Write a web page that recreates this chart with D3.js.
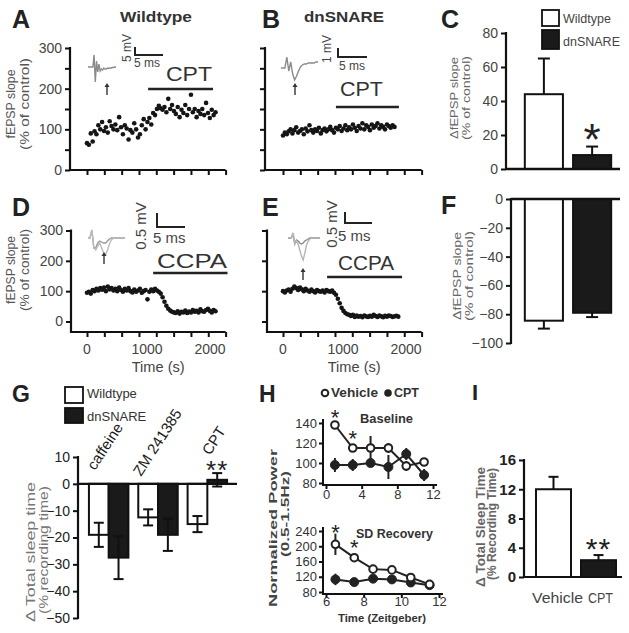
<!DOCTYPE html>
<html><head><meta charset="utf-8">
<script src="https://cdn.jsdelivr.net/npm/d3@7"></script>
<style>
body{margin:0;background:#fff;}
svg{display:block;font-family:"Liberation Sans",Arial,Helvetica,sans-serif;}
</style></head><body>
<svg id="fig" width="629" height="633"></svg>
<script>
// ================= DATA =================
const sampleStepSec = 30;
const timeMinorTicks = [0, 275, 550, 825, 1100, 1375, 1650, 1925, 2200];
const timeTickLabels = [0, 1000, 2000];
const slopeTicks = [0, 50, 100, 150, 200, 250, 300];
const slopeTickLabels = [0, 100, 200, 300];
const slopeTicksCcpa = [0, 100, 200, 300];

// A: Wildtype, CPT (fEPSP slope, % of control)
const wildtypeCptSlope = [66, 62, 90, 70, 95, 88, 110, 100, 118, 96, 105, 92, 120, 108, 100, 112, 98, 130, 105, 88,
  110, 102, 75, 98, 92, 115, 100, 80, 88, 110, 125, 100, 118, 128, 112, 140, 135, 150, 158, 152,
  148, 155, 142, 175, 150, 160, 145, 138, 155, 130, 148, 140, 160, 135, 150, 185, 142, 150, 130, 145,
  138, 150, 135, 165, 140, 128, 148, 135, 142];
// B: dnSNARE, CPT
const dnSnareCptSlope = [85, 92, 88, 95, 100, 90, 98, 105, 92, 96, 100, 88, 102, 95, 110, 98, 92, 100, 96, 104,
  90, 98, 102, 95, 100, 106, 98, 92, 104, 100, 108, 96, 102, 110, 98, 105, 100, 112, 104, 96,
  108, 102, 115, 100, 110, 106, 98, 112, 104, 108, 115, 102, 110, 106, 100, 112, 108, 104, 110, 106];
// D: Wildtype, CCPA
const wildtypeCcpaSlope = [95, 98, 92, 104, 100, 108, 102, 110, 105, 112, 100, 115, 106, 110, 102, 108, 100, 112, 104, 98,
  108, 102, 110, 100, 96, 105, 98, 102, 108, 95, 100, 104, 73, 98, 105, 100, 108, 102, 98,
  92, 80, 65, 52, 42, 36, 32, 30,
  28, 34, 26, 32, 30, 36, 28, 33, 30, 38, 32, 35, 30, 40, 34, 32, 38, 42, 35, 30, 38, 34];
// E: dnSNARE, CCPA
const dnSnareCcpaSlope = [100, 96, 102, 105, 98, 108, 115, 110, 104, 112, 106, 100, 108, 102, 98, 105, 100, 96, 104, 100,
  98, 102, 96, 104, 100, 98, 102,
  95, 88, 75, 60, 45, 35, 28, 24, 22,
  18, 22, 15, 20, 16, 18, 14, 20, 17, 15, 19, 16, 22, 18, 15, 20, 17, 14, 19, 16, 20, 18, 15, 17, 19, 16];
// drug application (s)
const cptOnsetSec = [970, 840];
const cptOffsetSec = [2000, 1840];
const ccpaOnsetSec = [1050, 700];
const ccpaOffsetSec = [2230, 1890];

// example traces (inset, arbitrary units)
const traceWtCpt = [0, 0, 0, 0, 0, 12, -15, 6, -5, 3, -4, -2, -3, -1, -2, -2, -1, -1.5, -1, -1, -0.5, -0.5, 0, 0];
const traceDnCpt = [0, 0, 0, 11, -3, 6, -6, -12, -8, -3, 1, 3, 4, 4, 5, 5, 5, 5, 6, 6];
const traceWtCcpaCtrl = [0, 0, 8, -10, -12, -8, -5, -10, -15, -17, -12, -6, -2, 0, 0, 0, 0, 0, 0, 0];
const traceWtCcpaDrug = [0, 0, 8, -10, -10, -5, -3, -4, -5, -5, -3, -1, 0, 0, 0, 0, 0, 0, 0, 0];
const traceDnCcpaCtrl = [0, 0, 0, 5, -6, -3, -6, -12, -18, -22, -15, -7, -3, -1, 0, 0, 0, 0, 0, 0];
const traceDnCcpaDrug = [0, 0, 0, 5, -6, -2, -3, -5, -6, -5, -3, -2, -1, 0, 0, 0, 0, 0, 0, 0];

// C / F: change in fEPSP slope
const genotypes = ["Wildtype", "dnSNARE"];
const cptDeltaSlope = [44, 8.2];
const cptDeltaSlopeErr = [21, 5];
const ccpaDeltaSlope = [-84.5, -79];
const ccpaDeltaSlopeErr = [5.5, 3];
const deltaCptTicks = [0, 20, 40, 60, 80];
const deltaCcpaTicks = [0, -20, -40, -60, -80, -100];

// G: change in total sleep time
const drugs = ["caffeine", "ZM 241385", "CPT"];
const sleepWildtype = [-19, -12.5, -15];
const sleepWildtypeErr = [4.5, 3, 3];
const sleepDnSnare = [-27.5, -19, 1.5];
const sleepDnSnareErr = [8, 6, 2.5];
const sleepTicks = [10, 0, -10, -20, -30, -40, -50];

// H: normalized power
const baselineHours = [1, 3, 5, 7, 9, 11];
const baselineVehicle = [138, 115, 115, 115, 97, 101];
const baselineVehicleErr = [3, 4, 12, 5, 5, 4];
const baselineCpt = [98, 98, 100, 96, 109, 88];
const baselineCptErr = [7, 6, 4, 12, 6, 6];
const baselineTicksY = [80, 100, 120, 140];
const baselineTicksX = [0, 4, 8, 12];
const recoveryHours = [6.5, 7.5, 8.5, 9.5, 10.5, 11.5];
const recoveryVehicle = [205, 170, 140, 138, 118, 100];
const recoveryVehicleErr = [28, 10, 6, 6, 5, 4];
const recoveryCpt = [113, 106, 115, 113, 105, 98];
const recoveryCptErr = [15, 8, 8, 7, 6, 5];
const recoveryTicksY = [80, 120, 160, 200, 240];
const recoveryTicksX = [6, 8, 10, 12];

// I: total sleep time
const treatments = ["Vehicle", "CPT"];
const sleepTime = [12, 2.3];
const sleepTimeErr = [1.7, 0.7];
const sleepTimeTicks = [0, 4, 8, 12, 16];

// ================= DRAWING =================
const svg = d3.select("#fig");
const INK = "#111";
const TXT = "#3a3a3a";

function txt(parent, str, x, y, o = {}) {
  const t = parent.append("text").attr("x", x).attr("y", y).text(str)
    .attr("font-size", o.size || 12).attr("fill", o.fill || TXT)
    .attr("font-weight", o.weight || "normal")
    .attr("text-anchor", o.anchor || "start");
  if (o.rotate != null) t.attr("transform", `rotate(${o.rotate},${x},${y})`);
  if (o.length) t.attr("textLength", o.length).attr("lengthAdjust", "spacingAndGlyphs");
  if (o.ls) t.attr("letter-spacing", o.ls);
  return t;
}
function line(parent, x1, y1, x2, y2, w = 2, c = INK) {
  return parent.append("line").attr("x1", x1).attr("y1", y1).attr("x2", x2).attr("y2", y2)
    .attr("stroke", c).attr("stroke-width", w);
}
function styleAxis(g, o = {}) {
  g.select(".domain").remove();
  g.selectAll(".tick line").attr("stroke", INK).attr("stroke-width", o.w || 2);
  g.selectAll(".tick text").attr("font-size", o.size || 14).attr("fill", o.fill || "#444")
    .attr("font-weight", o.weight || "normal").attr("font-family", "Liberation Sans, Arial, sans-serif");
}
function star(parent, str, cx, cy, size, ls = 0) {
  return txt(parent, str, cx, cy + 0.56 * size, { size, anchor: "middle", fill: "#222", ls });
}

// ---------- time-course panels (A, B, D, E) ----------
function timeCourse(cfg) {
  const g = svg.append("g");
  const t = d3.scaleLinear().domain([0, 2000]).range(cfg.tRange);
  const y = d3.scaleLinear().domain([0, 300]).range(cfg.yRange);
  const ya = g.append("g").attr("transform", `translate(${cfg.axisX},0)`)
    .call(d3.axisLeft(y).tickValues(cfg.yTicks).tickSize(5).tickPadding(3)
      .tickFormat(d => cfg.yLabels.includes(d) ? d : ""));
  styleAxis(ya, { size: 14 });
  line(g, cfg.axisX, y(300) - 1, cfg.axisX, cfg.xAxisY + 1, 2.2);
  const xa = g.append("g").attr("transform", `translate(0,${cfg.xAxisY})`)
    .call(d3.axisBottom(t).tickValues(timeMinorTicks).tickSize(5).tickFormat(""));
  styleAxis(xa);
  line(g, cfg.axisX, cfg.xAxisY, t(2200), cfg.xAxisY, 2.2);
  if (cfg.xLabels) {
    timeTickLabels.forEach(v => txt(g, v, t(v) + (v === 0 ? 0 : -3), cfg.xAxisY + 22, { size: 14, anchor: "middle", fill: "#444" }));
    txt(g, "Time (s)", t(1130), cfg.xAxisY + 40, { size: 15, anchor: "middle", fill: "#444", length: 53 });
  }
  g.append("g").selectAll("circle").data(cfg.values).join("circle")
    .attr("cx", (d, i) => t(i * sampleStepSec)).attr("cy", d => y(d))
    .attr("r", 2.3).attr("fill", "#151515");
  // drug bar
  line(g, t(cfg.drugOn), cfg.drugY, t(cfg.drugOff), cfg.drugY, 2.5, "#222");
  txt(g, cfg.drug, cfg.drugTextX, cfg.drugTextY, { size: 20, fill: "#333", length: cfg.drugLen });
  // inset traces
  cfg.traces.forEach(tr => {
    const xs = d3.scaleLinear().domain([0, tr.values.length - 1]).range([tr.x0, tr.x1]);
    const ys = d3.scaleLinear().domain([0, 1]).range([tr.base, tr.base - 1]);
    g.append("path").datum(tr.values)
      .attr("d", d3.line().x((d, i) => xs(i)).y(d => ys(d)))
      .attr("fill", "none").attr("stroke", tr.color).attr("stroke-width", 1.4);
  });
  // arrow
  const a = cfg.arrow;
  line(g, a.x, a.y1, a.x, a.y0 + 3, 1.4, "#333");
  g.append("path").attr("d", `M${a.x - 2.5},${a.y0 + 4}L${a.x},${a.y0}L${a.x + 2.5},${a.y0 + 4}Z`).attr("fill", "#333");
  // scale bar
  const s = cfg.scale;
  g.append("path").attr("d", `M${s.x},${s.y0}V${s.y1}H${s.x + s.w}`).attr("fill", "none").attr("stroke", "#222").attr("stroke-width", 2);
  txt(g, s.vLabel, s.vx, s.vy, { size: s.size, rotate: -90, anchor: "middle", fill: "#444" });
  txt(g, "5 ms", s.hx, s.hy, { size: s.size, fill: "#444" });
  // y titles
  if (cfg.yTitle) {
    txt(g, "fEPSP slope", 15, cfg.titleY, { size: 12, rotate: -90, anchor: "middle", fill: "#555", length: cfg.t1 });
    txt(g, "(% of control)", 29, cfg.titleY, { size: 12, rotate: -90, anchor: "middle", fill: "#555", length: cfg.t2 });
  }
}

timeCourse({
  tRange: [87, 213], yRange: [170, 48], axisX: 70, xAxisY: 170,
  yTicks: slopeTicks, yLabels: slopeTickLabels, values: wildtypeCptSlope,
  drug: "CPT", drugOn: cptOnsetSec[0], drugOff: cptOffsetSec[0], drugY: 89, drugTextX: 166, drugTextY: 81, drugLen: 46,
  traces: [{ values: traceWtCpt, x0: 88, x1: 116, base: 67, color: "#8a8a8a" }],
  arrow: { x: 107, y0: 83, y1: 95 },
  scale: { x: 135, y0: 47, y1: 55, w: 28, vLabel: "5 mV", vx: 131, vy: 48, hx: 134, hy: 67, size: 12 },
  yTitle: true, titleY: 104, t1: 69, t2: 92
});
timeCourse({
  tRange: [283, 409], yRange: [170, 48], axisX: 265, xAxisY: 170,
  yTicks: slopeTicks, yLabels: [], values: dnSnareCptSlope,
  drug: "CPT", drugOn: cptOnsetSec[1], drugOff: cptOffsetSec[1], drugY: 107, drugTextX: 340, drugTextY: 96, drugLen: 43,
  traces: [{ values: traceDnCpt, x0: 281, x1: 318, base: 68, color: "#8a8a8a" }],
  arrow: { x: 295, y0: 83, y1: 95 },
  scale: { x: 338, y0: 48, y1: 57, w: 29, vLabel: "1 mV", vx: 331, vy: 49, hx: 339, hy: 70, size: 12 }
});
timeCourse({
  tRange: [87, 213], yRange: [321.5, 230.5], axisX: 71, xAxisY: 332,
  yTicks: slopeTicksCcpa, yLabels: slopeTicksCcpa, values: wildtypeCcpaSlope, xLabels: true,
  drug: "CCPA", drugOn: ccpaOnsetSec[0], drugOff: ccpaOffsetSec[0], drugY: 273, drugTextX: 157, drugTextY: 268, drugLen: 70,
  traces: [{ values: traceWtCcpaDrug, x0: 88, x1: 125, base: 238, color: "#999" },
           { values: traceWtCcpaCtrl, x0: 88, x1: 125, base: 238, color: "#bbb" }],
  arrow: { x: 104, y0: 252, y1: 264 },
  scale: { x: 157, y0: 213, y1: 227, w: 28, vLabel: "0.5 mV", vx: 146, vy: 226, hx: 153, hy: 243, size: 15 },
  yTitle: true, titleY: 270, t1: 68, t2: 82
});
timeCourse({
  tRange: [283, 409], yRange: [321.5, 230.5], axisX: 267, xAxisY: 332,
  yTicks: slopeTicksCcpa, yLabels: [], values: dnSnareCcpaSlope, xLabels: true,
  drug: "CCPA", drugOn: ccpaOnsetSec[1], drugOff: ccpaOffsetSec[1], drugY: 277, drugTextX: 338, drugTextY: 270, drugLen: 56,
  traces: [{ values: traceDnCcpaDrug, x0: 288, x1: 320, base: 238, color: "#888" },
           { values: traceDnCcpaCtrl, x0: 288, x1: 320, base: 238, color: "#b5b5b5" }],
  arrow: { x: 303, y0: 268, y1: 280 },
  scale: { x: 345, y0: 212, y1: 223, w: 27, vLabel: "0.5 mV", vx: 337, vy: 224, hx: 338, hy: 241, size: 15 }
});

// panel letters and titles
[["A", 12, 28, 25], ["B", 262, 28, 25], ["C", 441, 28, 25], ["D", 12, 216, 25], ["E", 262, 216, 25],
 ["F", 441, 214, 25], ["G", 12, 402, 23], ["H", 259, 402, 23], ["I", 472, 400, 22]]
  .forEach(([s, x, y, sz]) => txt(svg, s, x, y, { size: sz, weight: "bold", fill: "#222" }));
txt(svg, "Wildtype", 120, 22, { size: 15, weight: "bold", fill: "#333", length: 72 });
txt(svg, "dnSNARE", 304, 22, { size: 15, weight: "bold", fill: "#333", length: 80 });

// ---------- C and F bar charts ----------
const xGen = d3.scaleBand().domain(genotypes).range([520, 616]).paddingInner(0.21).paddingOuter(0.1);
const genFill = ["#fff", "#1a1a1a"];

function deltaBars(cfg) {
  const g = svg.append("g");
  const y = d3.scaleLinear().domain(cfg.domain).range(cfg.range);
  const ya = g.append("g").attr("transform", `translate(${cfg.axisX},0)`)
    .call(d3.axisLeft(y).tickValues(cfg.ticks).tickSize(5).tickPadding(3));
  styleAxis(ya, { size: 14 });
  line(g, cfg.axisX, d3.min(cfg.range) - 1, cfg.axisX, d3.max(cfg.range) + 1, 2.2);
  genotypes.forEach((k, i) => {
    const v = cfg.values[i], e = cfg.errs[i];
    const cx = xGen(k) + xGen.bandwidth() / 2;
    line(g, cx, y(v), cx, y(v + Math.sign(v) * e), 2);
    line(g, cx - 6, y(v + Math.sign(v) * e), cx + 6, y(v + Math.sign(v) * e), 2);
    g.append("rect").attr("x", xGen(k)).attr("width", xGen.bandwidth())
      .attr("y", Math.min(y(v), y(0))).attr("height", Math.abs(y(v) - y(0)))
      .attr("fill", genFill[i]).attr("stroke", INK).attr("stroke-width", 2);
  });
  line(g, cfg.axisX, y(0), 620, y(0), 2.4);
  txt(g, cfg.t1, cfg.tx, cfg.ty, { size: 11.5, rotate: -90, anchor: "middle", fill: "#666", length: cfg.l1 });
  txt(g, "(% of control)", cfg.tx + 12, cfg.ty, { size: 11.5, rotate: -90, anchor: "middle", fill: "#666", length: cfg.l2 });
  return { g, y };
}
const C = deltaBars({ domain: [0, 80], range: [169, 33], axisX: 506, ticks: deltaCptTicks,
  values: cptDeltaSlope, errs: cptDeltaSlopeErr, t1: "ΔfEPSP slope", tx: 458, ty: 98, l1: 82, l2: 84 });
star(C.g, "*", xGen("dnSNARE") + xGen.bandwidth() / 2, 130, 44);
// legend C
[["Wildtype", 10, 26], ["dnSNARE", 30, 49]].forEach(([k, y0, y1], i) => {
  svg.append("rect").attr("x", 542).attr("y", y0).attr("width", 17).attr("height", y1 - y0)
    .attr("fill", genFill[i]).attr("stroke", INK).attr("stroke-width", 1.8);
  txt(svg, k, 563, i ? 46 : 23, { size: 12.5, fill: "#444" });
});
deltaBars({ domain: [-100, 0], range: [343, 199], axisX: 511, ticks: deltaCcpaTicks,
  values: ccpaDeltaSlope, errs: ccpaDeltaSlopeErr, t1: "ΔfEPSP slope", tx: 461, ty: 276, l1: 88, l2: 90 });

// ---------- G ----------
(function () {
  const g = svg.append("g");
  const y = d3.scaleLinear().domain([-50, 10]).range([618, 457]);
  const x0 = d3.scaleBand().domain(drugs).range([84, 232]).paddingInner(0.2).paddingOuter(0.1);
  const x1 = d3.scaleBand().domain(genotypes).range([0, x0.bandwidth()]);
  const ya = g.append("g").attr("transform", "translate(78,0)")
    .call(d3.axisLeft(y).tickValues(sleepTicks).tickSize(5).tickPadding(3));
  styleAxis(ya, { size: 14, fill: "#222" });
  line(g, 78, y(10) - 1, 78, y(-50) + 1, 2.2);
  const series = [[sleepWildtype, sleepWildtypeErr], [sleepDnSnare, sleepDnSnareErr]];
  drugs.forEach((d, j) => {
    genotypes.forEach((k, i) => {
      const v = series[i][0][j], e = series[i][1][j];
      const bx = x0(d) + x1(k), cx = bx + x1.bandwidth() / 2;
      g.append("rect").attr("x", bx).attr("width", x1.bandwidth())
        .attr("y", Math.min(y(v), y(0))).attr("height", Math.abs(y(v) - y(0)))
        .attr("fill", genFill[i]).attr("stroke", INK).attr("stroke-width", 2);
      line(g, cx, y(v - e), cx, y(v + e), 2);
      line(g, cx - 5, y(v - e), cx + 5, y(v - e), 2);
      line(g, cx - 5, y(v + e), cx + 5, y(v + e), 2);
    });
  });
  line(g, 78, y(0), 237, y(0), 2.4);
  const labPos = [[95, 471], [141, 477], [210, 456]];
  drugs.forEach((d, j) => txt(g, d, labPos[j][0], labPos[j][1], { size: 15, rotate: -57, fill: "#1a1a1a" }));
  star(g, "**", x0("CPT") + x0.bandwidth() * 0.75, 464, 26, 1);
  // legend
  [["Wildtype", 387, 403, 398], ["dnSNARE", 408, 423, 421]].forEach(([k, y0, y1, ty], i) => {
    g.append("rect").attr("x", 65).attr("y", y0).attr("width", 18).attr("height", y1 - y0)
      .attr("fill", genFill[i]).attr("stroke", INK).attr("stroke-width", 1.8);
    txt(g, k, 87, ty, { size: 13, fill: "#333" });
  });
  txt(g, "Δ Total sleep time", 35, 552, { size: 13, rotate: -90, anchor: "middle", fill: "#777", length: 140 });
  txt(g, "(% recording time)", 48, 550, { size: 13, rotate: -90, anchor: "middle", fill: "#777", length: 128 });
})();

// ---------- H ----------
(function () {
  const g = svg.append("g");
  function sub(cfg) {
    const x = d3.scaleLinear().domain(cfg.xd).range(cfg.xr);
    const y = d3.scaleLinear().domain(cfg.yd).range(cfg.yr);
    const ya = g.append("g").attr("transform", "translate(323,0)")
      .call(d3.axisLeft(y).tickValues(cfg.yt).tickSize(4).tickPadding(2).tickFormat(d3.format("d")));
    styleAxis(ya, { size: 13, fill: "#333" });
    line(g, 323, cfg.yr[1] - 4, 323, cfg.axisY + 1, 2);
    const xa = g.append("g").attr("transform", `translate(0,${cfg.axisY})`)
      .call(d3.axisBottom(x).tickValues(cfg.xt).tickSize(4).tickPadding(cfg.xPad).tickFormat(d3.format("d")));
    styleAxis(xa, { size: 13, fill: "#333" });
    line(g, 322, cfg.axisY, cfg.xr[1] + 4, cfg.axisY, 2);
    const lg = d3.line().x(d => x(d[0])).y(d => y(d[1]));
    [[cfg.cpt, cfg.cptE, true], [cfg.veh, cfg.vehE, false]].forEach(([vals, errs, filled]) => {
      const pts = cfg.hours.map((h, i) => [h, vals[i], errs[i]]);
      pts.forEach(p => line(g, x(p[0]), y(p[1] - p[2]), x(p[0]), y(p[1] + p[2]), 2, "#222"));
      g.append("path").datum(pts).attr("d", lg).attr("fill", "none").attr("stroke", "#222").attr("stroke-width", 2);
      g.append("g").selectAll("circle").data(pts).join("circle")
        .attr("cx", p => x(p[0])).attr("cy", p => y(p[1])).attr("r", filled ? 4.5 : 3.8)
        .attr("fill", filled ? "#222" : "#fff").attr("stroke", "#222").attr("stroke-width", filled ? 1 : 2);
    });
    return { x, y };
  }
  const top = sub({ xd: [0, 12], xr: [326, 433], yd: [80, 140], yr: [483, 423], yt: baselineTicksY, xt: baselineTicksX, axisY: 485, xPad: 1,
    hours: baselineHours, veh: baselineVehicle, vehE: baselineVehicleErr, cpt: baselineCpt, cptE: baselineCptErr });
  star(g, "*", top.x(1), 413, 22);
  star(g, "*", top.x(3), 434, 22);
  txt(g, "Baseline", 360, 423, { size: 12.5, weight: "bold", fill: "#333", length: 53 });
  const bot = sub({ xd: [6, 12], xr: [326, 439], yd: [80, 240], yr: [592, 531], yt: recoveryTicksY, xt: recoveryTicksX, axisY: 594, xPad: -1,
    hours: recoveryHours, veh: recoveryVehicle, vehE: recoveryVehicleErr, cpt: recoveryCpt, cptE: recoveryCptErr });
  star(g, "*", bot.x(6.5), 528, 22);
  star(g, "*", bot.x(7.5), 543, 22);
  txt(g, "SD Recovery", 356, 538, { size: 12.5, weight: "bold", fill: "#333", length: 77 });
  txt(g, "Time (Zeitgeber)", 382, 622, { size: 11.5, weight: "bold", fill: "#333", anchor: "middle", length: 88 });
  txt(g, "Normalized Power", 277, 528, { size: 11, weight: "bold", rotate: -90, anchor: "middle", fill: "#444", length: 158 });
  txt(g, "(0.5-1.5Hz)", 289, 514, { size: 11, weight: "bold", rotate: -90, anchor: "middle", fill: "#444", length: 86 });
  // legend
  g.append("circle").attr("cx", 325).attr("cy", 393).attr("r", 3.3).attr("fill", "#fff").attr("stroke", "#222").attr("stroke-width", 2);
  txt(g, "Vehicle", 331, 397, { size: 12.5, weight: "bold", fill: "#333", length: 47 });
  g.append("circle").attr("cx", 388).attr("cy", 393).attr("r", 3.8).attr("fill", "#222");
  txt(g, "CPT", 394, 397, { size: 12.5, weight: "bold", fill: "#333" });
})();

// ---------- I ----------
(function () {
  const g = svg.append("g");
  const y = d3.scaleLinear().domain([0, 16]).range([577, 460]);
  const x = d3.scaleBand().domain(treatments).range([530, 622]).paddingInner(0.222).paddingOuter(0.133);
  const ya = g.append("g").attr("transform", "translate(524,0)")
    .call(d3.axisLeft(y).tickValues(sleepTimeTicks).tickSize(5).tickPadding(3));
  styleAxis(ya, { size: 15, fill: "#222", weight: "bold" });
  line(g, 524, y(16) - 1, 524, y(0) + 1, 2.2);
  treatments.forEach((k, i) => {
    const v = sleepTime[i], e = sleepTimeErr[i], cx = x(k) + x.bandwidth() / 2;
    line(g, cx, y(v), cx, y(v + e), 2);
    line(g, cx - 5, y(v + e), cx + 5, y(v + e), 2);
    g.append("rect").attr("x", x(k)).attr("width", x.bandwidth()).attr("y", y(v)).attr("height", y(0) - y(v))
      .attr("fill", genFill[i]).attr("stroke", INK).attr("stroke-width", 2);
  });
  line(g, 524, y(0), 622, y(0), 2.2);
  star(g, "**", x("CPT") + x.bandwidth() / 2, 542, 30, 1);
  txt(g, "Vehicle", 532, 603, { size: 15, fill: "#444", length: 51 });
  txt(g, "CPT", 588, 603, { size: 15, fill: "#444", length: 25 });
  txt(g, "Δ Total Sleep Time", 485, 527, { size: 12, weight: "bold", rotate: -90, anchor: "middle", fill: "#666", length: 120 });
  txt(g, "(% Recording Time)", 496, 524, { size: 12, weight: "bold", rotate: -90, anchor: "middle", fill: "#666", length: 112 });
})();
</script>
</body></html>
